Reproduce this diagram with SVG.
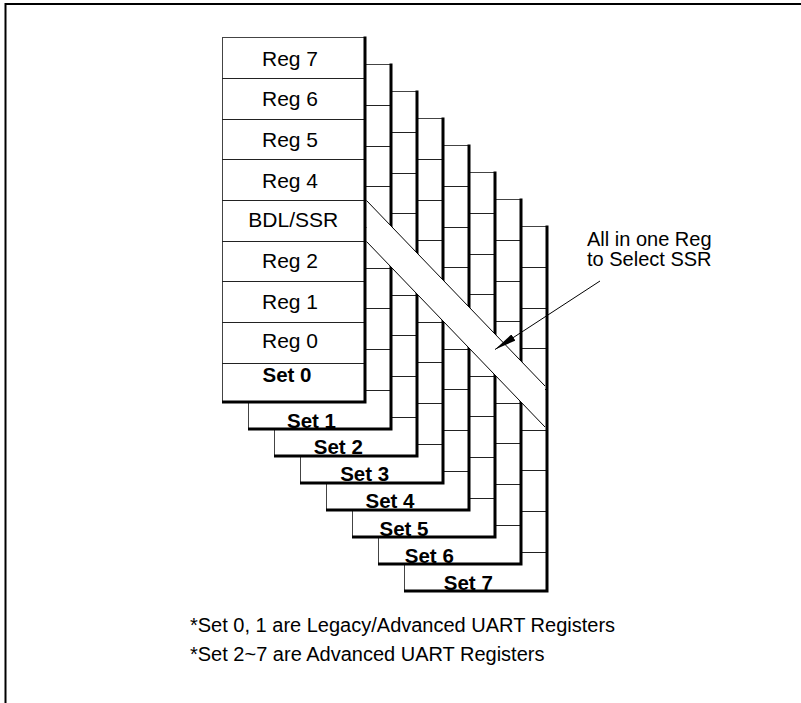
<svg xmlns="http://www.w3.org/2000/svg" xmlns:xlink="http://www.w3.org/1999/xlink" width="801" height="703" viewBox="0 0 801 703">
<style>
  .frame { fill: none; stroke: #000; stroke-width: 2; }
  .box { fill: #fff; stroke: #444; stroke-width: 1; }
  .row { fill: none; stroke: #222; stroke-width: 1; }
  .edge { fill: none; stroke: #000; stroke-width: 3; }
  .band { fill: #fff; stroke: none; }
  .bandline { fill: none; stroke: #000; stroke-width: 1; }
  .reg { font-family: "Liberation Sans", Arial, sans-serif; font-size: 21px; fill: #000; text-anchor: middle; }
  .set { font-family: "Liberation Sans", Arial, sans-serif; font-size: 20.5px; font-weight: bold; fill: #000; text-anchor: middle; }
  .note { font-family: "Liberation Sans", Arial, sans-serif; font-size: 20px; fill: #000; }
  .conn { fill: none; stroke: #000; stroke-width: 1; }
</style>
<defs>
  <rect id="box" class="box" x="222.5" y="37.5" width="142.5" height="364.5"/>
  <path id="rows" class="row" d="M222,78.5H365M222,119.5H365M222,159.5H365M222,200.5H365M222,241.5H365M222,281.5H365M222,322.5H365M222,363.5H365"/>
  <path id="edge" class="edge" d="M365,36.5V403.5M222,402H366.5"/>
  <marker id="arrow" viewBox="0 0 22 8" refX="22" refY="4" markerWidth="22" markerHeight="8" markerUnits="userSpaceOnUse" orient="auto">
    <path d="M0,0.3 L22,4 L0,7.7 z" fill="#000"/>
  </marker>
</defs>
<rect x="0" y="0" width="801" height="703" fill="#fff"/>
<path class="frame" d="M5.5,703V4H801"/>

<g id="set7" transform="translate(182,189)">
  <use xlink:href="#box"/><use xlink:href="#rows"/><use xlink:href="#edge"/>
  <text class="set" x="286.3" y="401">Set 7</text>
</g>
<g id="set6" transform="translate(156,162)">
  <use xlink:href="#box"/><use xlink:href="#rows"/><use xlink:href="#edge"/>
  <text class="set" x="273.3" y="401.3">Set 6</text>
</g>
<g id="set5" transform="translate(130,135)">
  <use xlink:href="#box"/><use xlink:href="#rows"/><use xlink:href="#edge"/>
  <text class="set" x="274" y="400.7">Set 5</text>
</g>
<g id="set4" transform="translate(104,108)">
  <use xlink:href="#box"/><use xlink:href="#rows"/><use xlink:href="#edge"/>
  <text class="set" x="286" y="400.3">Set 4</text>
</g>
<g id="set3" transform="translate(78,81)">
  <use xlink:href="#box"/><use xlink:href="#rows"/><use xlink:href="#edge"/>
  <text class="set" x="286.7" y="400">Set 3</text>
</g>
<g id="set2" transform="translate(52,54)">
  <use xlink:href="#box"/><use xlink:href="#rows"/><use xlink:href="#edge"/>
  <text class="set" x="286.3" y="399.5">Set 2</text>
</g>
<g id="set1" transform="translate(26,27)">
  <use xlink:href="#box"/><use xlink:href="#rows"/><use xlink:href="#edge"/>
  <text class="set" x="285.5" y="401.3">Set 1</text>
</g>

<g id="ssr-band">
  <polygon class="band" points="366.5,200.5 545,386 545,427 366.5,241.5"/>
  <path class="bandline" d="M366.5,200.5L545,386M366.5,241.5L545,427"/>
</g>

<g id="set0">
  <use xlink:href="#box"/><use xlink:href="#rows"/><use xlink:href="#edge"/>
  <text class="reg" x="290" y="66">Reg 7</text>
  <text class="reg" x="290" y="106">Reg 6</text>
  <text class="reg" x="290" y="146.7">Reg 5</text>
  <text class="reg" x="290" y="187.7">Reg 4</text>
  <text class="reg" x="293.3" y="227.3">BDL/SSR</text>
  <text class="reg" x="290" y="268.3">Reg 2</text>
  <text class="reg" x="290" y="309.3">Reg 1</text>
  <text class="reg" x="290" y="348.3">Reg 0</text>
  <text class="set" x="287" y="381.7">Set 0</text>
</g>

<g id="callout">
  <text class="note" x="587" y="245.5" font-size="21">All in one Reg</text>
  <text class="note" x="587" y="265.5" font-size="21">to Select SSR</text>
</g>

<g id="connectors">
  <line class="conn" x1="600" y1="281" x2="495" y2="349.5" marker-end="url(#arrow)"/>
</g>

<g id="notes">
  <text class="note" x="190" y="632">*Set 0, 1 are Legacy/Advanced UART Registers</text>
  <text class="note" x="190" y="661">*Set 2~7 are Advanced UART Registers</text>
</g>
</svg>
